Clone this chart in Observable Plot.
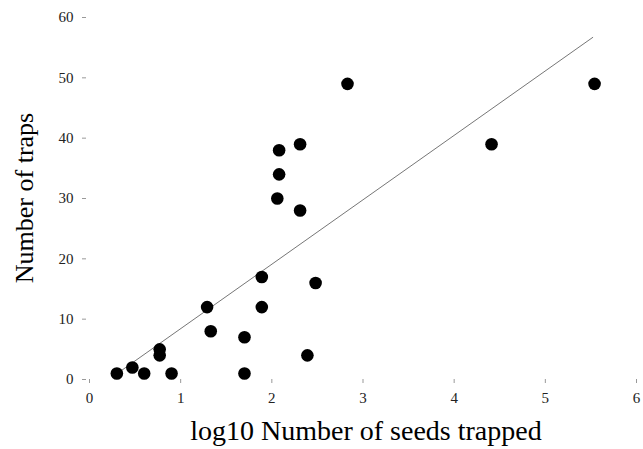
<!DOCTYPE html>
<html>
<head>
<meta charset="utf-8">
<script src="https://cdn.jsdelivr.net/npm/d3@7"></script>
<script src="https://cdn.jsdelivr.net/npm/@observablehq/plot@0.6"></script>
<style>
  html, body { margin: 0; padding: 0; background: #fff; }
  svg { display: block; }
</style>
</head>
<body>
<div id="chart"></div>
<script>
const logSeeds = [0.30, 0.47, 0.60, 0.77, 0.77, 0.90, 1.29, 1.33, 1.70, 1.70, 1.89, 1.89, 2.06, 2.08, 2.08, 2.31, 2.31, 2.39, 2.48, 2.83, 4.41, 5.54];
const traps    = [1,    2,    1,    5,    4,    1,    12,   8,    7,    1,    17,   12,   30,   34,   38,   39,   28,   4,    16,   49,   39,   49];
const fitX = [0.30, 5.52];
const fitY = [0.95, 56.7];
const xTicks = [0, 1, 2, 3, 4, 5, 6];
const yTicks = [0, 10, 20, 30, 40, 50, 60];
const xTitle = "log10 Number of seeds trapped";
const yTitle = "Number of traps";

const points = logSeeds.map((x, i) => ({x, y: traps[i]}));
const fit = fitX.map((x, i) => ({x, y: fitY[i]}));

const W = 643, H = 449;
const chart = Plot.plot({
  width: W,
  height: H,
  marginLeft: 89,
  marginRight: 7,
  marginTop: 17,
  marginBottom: 70,
  style: {fontFamily: "'Liberation Serif', 'Times New Roman', serif", fontSize: "15px", color: "#000", background: "#fff"},
  x: {domain: [0, 6], ticks: xTicks, label: null},
  y: {domain: [0, 60], ticks: yTicks, label: null},
  marks: [
    Plot.axisX({ticks: xTicks, tickSize: 4, tickPadding: 9, stroke: "#999", fill: "#222", label: null, tickFormat: d => String(d)}),
    Plot.axisY({ticks: yTicks, tickSize: 4, tickPadding: 9, dx: -3, stroke: "#999", fill: "#222", label: null, tickFormat: d => String(d)}),
    Plot.line(fit, {x: "x", y: "y", stroke: "#666", strokeWidth: 0.9}),
    Plot.dot(points, {x: "x", y: "y", r: 6.3, fill: "#000", stroke: "none"})
  ]
});
document.getElementById("chart").appendChild(chart);

const svg = d3.select(chart);
svg.append("text")
  .attr("x", 366).attr("y", 440)
  .attr("text-anchor", "middle")
  .attr("font-family", "'Liberation Serif', 'Times New Roman', serif")
  .attr("font-size", 28)
  .attr("fill", "#000")
  .text(xTitle);
svg.append("text")
  .attr("transform", "translate(33,198) rotate(-90)")
  .attr("text-anchor", "middle")
  .attr("font-family", "'Liberation Serif', 'Times New Roman', serif")
  .attr("font-size", 26)
  .attr("fill", "#000")
  .text(yTitle);
</script>
</body>
</html>
